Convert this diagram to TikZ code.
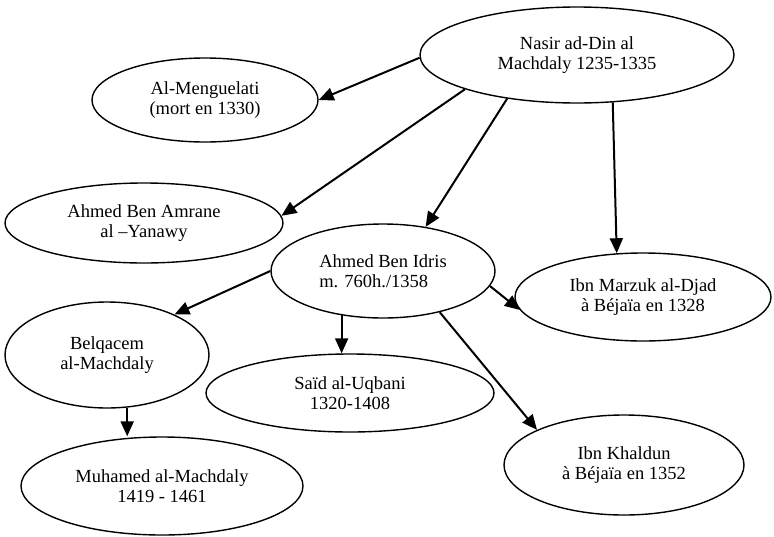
\documentclass[tikz,border=0pt]{standalone}
\usepackage{fontspec}
\setmainfont{Liberation Serif}
\usetikzlibrary{shapes.geometric,arrows.meta}
\tikzset{
  bubble/.style={draw, ellipse, line width=1.4pt, inner sep=0pt, align=center,
    font=\fontsize{18.5}{20.5}\selectfont},
  arr/.style={line width=2pt, -{Triangle[length=15pt,width=13pt]}}
}
\begin{document}
\begin{tikzpicture}[x=1pt,y=-1pt]
\useasboundingbox (0,0) rectangle (774,536);
\node[bubble, minimum width=314pt, minimum height=96pt] (N) at (577,55) {Nasir ad-Din al\\Machdaly 1235-1335};
\node[bubble, minimum width=226pt, minimum height=84pt] (M) at (205,100) {Al-Menguelati\\(mort en 1330)};
\node[bubble, minimum width=278pt, minimum height=80pt] (A) at (144,223) {Ahmed Ben Amrane\\al --Yanawy};
\node[bubble, minimum width=224pt, minimum height=94pt, align=left] (I) at (383,271) {Ahmed Ben Idris\\m. 760h./1358};
\node[bubble, minimum width=256pt, minimum height=88pt] (Z) at (643,297) {Ibn Marzuk al-Djad\\à Béjaïa en 1328};
\node[bubble, minimum width=204pt, minimum height=106pt] (B) at (107,355) {Belqacem\\al-Machdaly};
\node[bubble, minimum width=288pt, minimum height=78pt] (S) at (350,393) {Saïd al-Uqbani\\1320-1408};
\node[bubble, minimum width=240pt, minimum height=100pt] (K) at (624,465) {Ibn Khaldun\\à Béjaïa en 1352};
\node[bubble, minimum width=282pt, minimum height=98pt] (U) at (162,486) {Muhamed al-Machdaly\\1419 - 1461};

\draw[arr] (N.181) -- (M.east);
\draw[arr] (N.197.6) -- (A.3);
\draw[arr] (N.212.7) -- (I.46.4);
\draw[arr] (N.307.5) -- (Z.121.8);
\draw[arr] (I.180) -- (B.31.6);
\draw[arr] (I.352.5) -- (Z.186.7);
\draw[arr] (I.227) -- (I.227 |- S.north);
\draw[arr] (I.324.9) -- (K.158);
\draw[arr] (B.291) -- (B.291 |- U.north);
\end{tikzpicture}
\end{document}
